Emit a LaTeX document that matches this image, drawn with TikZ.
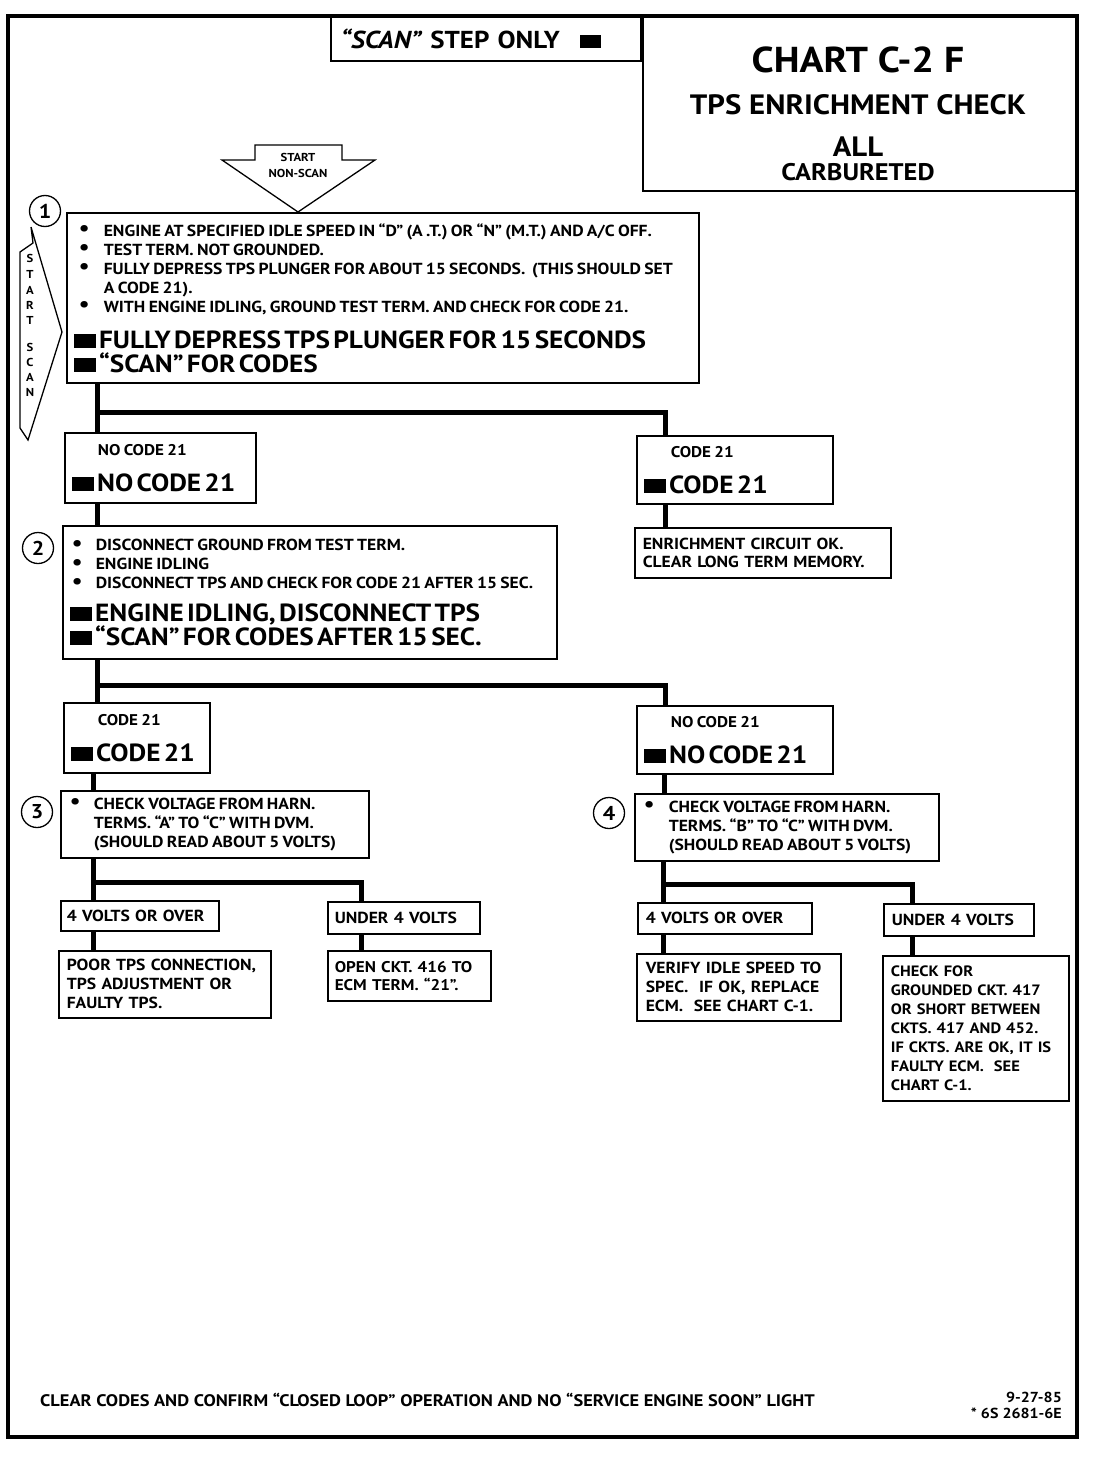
\documentclass[tikz,border=0pt]{standalone}
\usepackage{fontspec}
\setmainfont{PT Sans}[FakeStretch=1.1]
\usetikzlibrary{positioning}
\setlength{\parindent}{0pt}
\newcommand{\smallfont}{\fontsize{16}{19}\selectfont\bfseries}
\newcommand{\bigfont}{\fontsize{24.8}{24}\selectfont\bfseries}
\newcommand{\labelfont}{\fontsize{15.5}{16}\selectfont\bfseries}
\newcommand{\tinyfont}{\fontsize{11.5}{16}\selectfont\bfseries}
\newcommand{\scanmark}{\rule{0.9em}{0.58em}\hspace{0.12em}}
\newcommand{\bul}[1]{\makebox[#1][l]{\smash{\raisebox{0.02em}{\scalebox{1.35}{\textbullet}}}}}
\begin{document}
\begin{tikzpicture}[x=1pt,y=-1pt,
		box/.style={draw, line width=1.6pt, anchor=north west, align=left, inner xsep=7pt, inner ysep=0pt},
		num/.style={draw, circle, fill=white, line width=1.3pt, minimum size=31pt, inner sep=0pt, font=\fontsize{20}{20}\selectfont\bfseries},
		link/.style={line width=5pt},
		tag/.style={font=\tinyfont, inner sep=0pt}]
	\useasboundingbox (0,0) rectangle (1104,1472);
	% frame and heading
	\draw[line width=3.5pt] (8,16) rectangle (1077,1437);
	\node(StepOnly) [box, text width=290pt, minimum height=44pt, inner xsep=10pt, font=\fontsize{24.5}{24}\selectfont\bfseries] at (330,16) {\textit{“SCAN”} STEP ONLY\hspace{20pt}\rule{21pt}{13pt}};
	\node(ChartBox) [box, minimum width=435pt, minimum height=174pt] at (642,16) {};
	\node(ChartName) [font=\fontsize{36}{36}\selectfont\bfseries] at (858,60) {CHART C-2 F};
	\node(ChartTitle) [font=\fontsize{28}{28}\selectfont\bfseries] at (858,105) {TPS ENRICHMENT CHECK};
	\node(ChartAll) [font=\fontsize{28}{28}\selectfont\bfseries] at (858,147) {ALL};
	\node(ChartCarb) [font=\fontsize{24}{24}\selectfont\bfseries] at (858,172) {CARBURETED};
	% start arrows
	\draw[line width=1.3pt] (255,145) -- (342,145) -- (342,160) -- (375,160) -- (298,212) -- (222,160) -- (255,160) -- cycle;
	\node(StartNonScan) [tag, align=center] at (298,165) {START\\NON-SCAN};
	\draw[line width=1.3pt] (31,227) -- (62,332) -- (28,440) -- (20,428) -- (20,252) -- (33,243) -- cycle;
	\foreach \ch/\yy in {S/258,T/274,A/290,R/305,T/320,S/347,C/362,A/377,N/392}
		\node(Scan\yy) [tag] at (30,\yy) {\ch};
	% step 1
	\node(Step1) [box, text width=618pt, minimum height=170pt] at (66,212) {%
		\smallfont
		\hspace*{5pt}\bul{25pt}ENGINE AT SPECIFIED IDLE SPEED IN “D” (A .T.) OR “N” (M.T.) AND A/C OFF.\par
		\hspace*{5pt}\bul{25pt}TEST TERM. NOT GROUNDED.\par
		\hspace*{5pt}\bul{25pt}FULLY DEPRESS TPS PLUNGER FOR ABOUT 15 SECONDS.\ \ (THIS SHOULD SET\par
		\hspace*{30pt}A CODE 21).\par
		\hspace*{5pt}\bul{25pt}WITH ENGINE IDLING, GROUND TEST TERM. AND CHECK FOR CODE 21.\par
		\vspace{12pt}\bigfont
		\scanmark FULLY DEPRESS TPS PLUNGER FOR 15 SECONDS\par
		\scanmark “SCAN” FOR CODES\par};
	\node(Num1) [num] at (45,211) {1};
	\node(NoCode1) [box, text width=177pt, minimum height=70pt] at (64,432) {%
		\labelfont\hspace*{26pt}NO CODE 21\par\vspace{12pt}
		\bigfont\scanmark NO CODE 21\par};
	\node(Code1) [box, text width=182pt, minimum height=68pt] at (636,435) {%
		\labelfont\hspace*{27pt}CODE 21\par\vspace{12pt}
		\bigfont\scanmark CODE 21\par};
	\node(CircuitOK) [box, text width=240pt, minimum height=50pt, inner xsep=8pt, font=\fontsize{16}{18}\selectfont\bfseries] at (634,527) {%
		ENRICHMENT CIRCUIT OK.\par
		CLEAR LONG TERM MEMORY.\par};
	% step 2
	\node(Step2) [box, text width=480pt, minimum height=133pt] at (62,525) {%
		\smallfont
		\hspace*{2pt}\bul{24pt}DISCONNECT GROUND FROM TEST TERM.\par
		\hspace*{2pt}\bul{24pt}ENGINE IDLING\par
		\hspace*{2pt}\bul{24pt}DISCONNECT TPS AND CHECK FOR CODE 21 AFTER 15 SEC.\par
		\vspace{9pt}\bigfont
		\scanmark ENGINE IDLING, DISCONNECT TPS\par
		\scanmark “SCAN” FOR CODES AFTER 15 SEC.\par};
	\node(Num2) [num] at (38,548) {2};
	\node(Code2) [box, text width=132pt, minimum height=70pt] at (63,702) {%
		\labelfont\hspace*{27pt}CODE 21\par\vspace{12pt}
		\bigfont\scanmark CODE 21\par};
	\node(NoCode2) [box, text width=182pt, minimum height=68pt] at (636,705) {%
		\labelfont\hspace*{27pt}NO CODE 21\par\vspace{12pt}
		\bigfont\scanmark NO CODE 21\par};
	% steps 3 and 4
	\node(Step3) [box, text width=294pt, minimum height=67pt] at (60,790) {%
		\smallfont
		\hspace*{2pt}\bul{24pt}CHECK VOLTAGE FROM HARN.\par
		\hspace*{26pt}TERMS. “A” TO “C” WITH DVM.\par
		\hspace*{26pt}(SHOULD READ ABOUT 5 VOLTS)\par};
	\node(Num3) [num] at (37,812) {3};
	\node(Step4) [box, text width=290pt, minimum height=67pt] at (634,793) {%
		\smallfont
		\hspace*{2pt}\bul{25pt}CHECK VOLTAGE FROM HARN.\par
		\hspace*{27pt}TERMS. “B” TO “C” WITH DVM.\par
		\hspace*{27pt}(SHOULD READ ABOUT 5 VOLTS)\par};
	\node(Num4) [num] at (609,813) {4};
	\node(OverA) [box, text width=146pt, minimum height=30pt, inner xsep=6pt, font=\smallfont] at (60,900) {4 VOLTS OR OVER};
	\node(UnderA) [box, text width=138pt, minimum height=32pt, font=\smallfont] at (327,901) {UNDER 4 VOLTS};
	\node(PoorTPS) [box, text width=196pt, minimum height=67pt, inner xsep=8pt, font=\smallfont] at (58,950) {%
		POOR TPS CONNECTION,\par
		TPS ADJUSTMENT OR\par
		FAULTY TPS.\par};
	\node(OpenCkt) [box, text width=149pt, minimum height=50pt, inner xsep=7pt, font=\fontsize{15.5}{18}\selectfont\bfseries] at (327,950) {%
		OPEN CKT. 416 TO\par
		ECM TERM. “21”.\par};
	\node(OverB) [box, text width=158pt, minimum height=31pt, inner xsep=8pt, font=\smallfont] at (637,902) {4 VOLTS OR OVER};
	\node(UnderB) [box, text width=134pt, minimum height=32pt, inner xsep=8pt, font=\smallfont] at (883,903) {UNDER 4 VOLTS};
	\node(VerifyIdle) [box, text width=186pt, minimum height=67pt, inner xsep=9pt, font=\smallfont] at (636,953) {%
		VERIFY IDLE SPEED TO\par
		SPEC.\ \ IF OK, REPLACE\par
		ECM.\ \ SEE CHART C-1.\par};
	\node(CheckGround) [box, text width=170pt, minimum height=145pt, inner xsep=8pt, font=\fontsize{15}{18.9}\selectfont\bfseries] at (882,955) {%
		CHECK FOR\par
		GROUNDED CKT. 417\par
		OR SHORT BETWEEN\par
		CKTS. 417 AND 452.\par
		IF CKTS. ARE OK, IT IS\par
		FAULTY ECM.\ \ SEE\par
		CHART C-1.\par};
	% footer
	\node(FooterNote) [anchor=west, inner sep=0pt, font=\fontsize{16.7}{19}\selectfont\bfseries] at (40,1400) {CLEAR CODES AND CONFIRM “CLOSED LOOP” OPERATION AND NO “SERVICE ENGINE SOON” LIGHT};
	\node(DateLine) [anchor=east, inner sep=0pt, font=\fontsize{14.5}{17}\selectfont\bfseries] at (1062,1397) {9-27-85};
	\node(PartNo) [below=5pt of DateLine.south east, anchor=north east, inner sep=0pt, font=\fontsize{14.5}{17}\selectfont\bfseries] {* 6S 2681-6E};
	% connectors
	\coordinate(Fork1) at (97,412);
	\draw[link](Step1.south west -| Fork1) -- (NoCode1.north west -| Fork1);
	\draw[link](Fork1) -| ([xshift=29pt]Code1.north west);
	\draw[link]([xshift=29pt]Code1.south west) -- ([xshift=29pt]Code1.south west |- CircuitOK.north);
	\draw[link](NoCode1.south west -| Fork1) -- (Step2.north west -| Fork1);
	\coordinate(Fork2) at (97,685);
	\draw[link](Step2.south west -| Fork2) -- (Code2.north west -| Fork2);
	\draw[link](Fork2) -| ([xshift=29pt]NoCode2.north west);
	\draw[link]([xshift=30pt]Code2.south west) -- ([xshift=30pt]Code2.south west |- Step3.north);
	\draw[link]([xshift=28pt]NoCode2.south west) -- ([xshift=28pt]NoCode2.south west |- Step4.north);
	\coordinate(Fork3) at (93,882);
	\draw[link](Step3.south west -| Fork3) -- (OverA.north west -| Fork3);
	\draw[link](Fork3) -| ([xshift=34pt]UnderA.north west);
	\draw[link](OverA.south west -| Fork3) -- (PoorTPS.north west -| Fork3);
	\draw[link]([xshift=34pt]UnderA.south west) -- ([xshift=34pt]UnderA.south west |- OpenCkt.north);
	\coordinate(Fork4) at (663,884);
	\draw[link](Step4.south west -| Fork4) -- (OverB.north west -| Fork4);
	\draw[link](Fork4) -| ([xshift=29pt]UnderB.north west);
	\draw[link](OverB.south west -| Fork4) -- (VerifyIdle.north west -| Fork4);
	\draw[link]([xshift=29pt]UnderB.south west) -- ([xshift=29pt]UnderB.south west |- CheckGround.north);
\end{tikzpicture}
\end{document}
